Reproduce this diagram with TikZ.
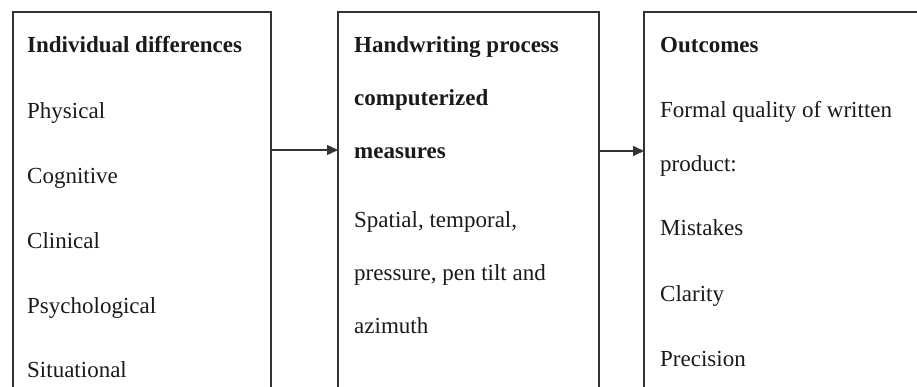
\documentclass[tikz,border=0pt]{standalone}
\usepackage{fontspec}
\setmainfont{Liberation Serif}
\usetikzlibrary{arrows.meta}
\definecolor{boxcol}{HTML}{333333}
\definecolor{txtcol}{HTML}{1A1A1A}
\begin{document}
\begin{tikzpicture}[x=1pt,y=-1pt,
  box/.style={draw=boxcol, line width=1.3pt, inner sep=0pt, outer sep=0pt, anchor=north west},
  txt/.style={anchor=base west, inner sep=0pt, font=\fontsize{23}{27}\selectfont, text=txtcol},
  hd/.style={anchor=base west, inner sep=0pt, font=\fontsize{23}{27}\selectfont\bfseries, text=txtcol},
  arr/.style={draw=boxcol, line width=1.3pt, -{Triangle[length=11pt,width=10pt]}}]
\useasboundingbox (0,0) rectangle (917,387);
\clip (0,0) rectangle (917,387);
% boxes
\node[box, minimum width=258pt, minimum height=420pt] (b1) at (13,12) {};
\node[box, minimum width=261pt, minimum height=420pt] (b2) at (338,12) {};
\node[box, minimum width=300pt, minimum height=420pt] (b3) at (644,12) {};
% left texts
\node[hd]  (l0) at (27,53)  {Individual differences};
\node[txt] (l1) at (27,119) {Physical};
\node[txt] (l2) at (27,184) {Cognitive};
\node[txt] (l3) at (27,248) {Clinical};
\node[txt] (l4) at (27,313) {Psychological};
\node[txt] (l5) at (27,377) {Situational};
% middle texts
\node[hd]  (m0) at (354,53)  {Handwriting process};
\node[hd]  (m1) at (354,106) {computerized};
\node[hd]  (m2) at (354,159) {measures};
\node[txt] (m3) at (354,227) {Spatial, temporal,};
\node[txt] (m4) at (354,280) {pressure, pen tilt and};
\node[txt] (m5) at (354,333) {azimuth};
% right texts
\node[hd]  (r0) at (660,53)  {Outcomes};
\node[txt] (r1) at (660,118) {Formal quality of written};
\node[txt] (r2) at (660,172) {product:};
\node[txt] (r3) at (660,236) {Mistakes};
\node[txt] (r4) at (660,301) {Clarity};
\node[txt] (r5) at (660,366) {Precision};
% arrows
\coordinate (y1) at (0,150);
\coordinate (y2) at (0,151);
\draw[arr] (b1.east |- y1) -- (b2.west |- y1);
\draw[arr] (b2.east |- y2) -- (b3.west |- y2);
\end{tikzpicture}
\end{document}
